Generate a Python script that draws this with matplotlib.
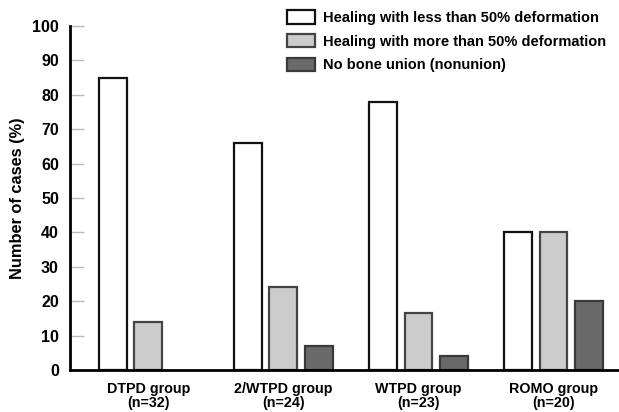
import numpy as np
from matplotlib import pyplot as plt
from matplotlib.patches import Patch

groups = ['DTPD group\n(n=32)', '2/WTPD group\n(n=24)', 'WTPD group\n(n=23)', 'ROMO group\n(n=20)']
less50 = [85, 66, 78, 40]
more50 = [14, 24, 16.5, 40]
nonunion = [0, 7, 4, 20]
labels = ['Healing with less than 50% deformation',
          'Healing with more than 50% deformation',
          'No bone union (nonunion)']

plt.rcParams['font.family'] = ['Liberation Sans', 'DejaVu Sans']
plt.rcParams['font.weight'] = 'bold'

fig = plt.figure(figsize=(6.19, 4.12), dpi=100)
ax = fig.add_axes([70/619, 42/412, 549/619, 344/412])

x = np.arange(len(groups))
w = 0.207
off = 0.26
ax.bar(x - off, less50, w, color='white', edgecolor='#111111', linewidth=1.6)
ax.bar(x, more50, w, color='#cccccc', edgecolor='#444444', linewidth=1.6)
nz = [i for i, v in enumerate(nonunion) if v > 0]
ax.bar(x[nz] + off, [nonunion[i] for i in nz], w, color='#6a6a6a', edgecolor='#3a3a3a', linewidth=1.6)

ax.set_xlim(-0.581, 3.485)
ax.set_ylim(0, 100)
ax.set_yticks(range(0, 101, 10))
ax.set_xticks(x)
ax.set_xticklabels(groups, fontsize=10.3, fontweight='bold', linespacing=1.0)
ax.tick_params(axis='y', direction='in', length=10, color='#bbbbbb', width=1,
               labelsize=11.5, pad=8)
ax.tick_params(axis='x', length=0, pad=9)
for s in ['top', 'right']:
    ax.spines[s].set_visible(False)
ax.spines['left'].set_linewidth(2)
ax.spines['bottom'].set_linewidth(2)
ax.set_ylabel('Number of cases (%)', fontsize=11.8, fontweight='bold', labelpad=5)

handles = [Patch(facecolor='white', edgecolor='#111111', linewidth=1.6),
           Patch(facecolor='#cccccc', edgecolor='#444444', linewidth=1.6),
           Patch(facecolor='#6a6a6a', edgecolor='#3a3a3a', linewidth=1.6)]
fig.legend(handles, labels, loc='upper left', bbox_to_anchor=(287/619, 1 - 10/412),
           frameon=False, fontsize=10.5, handlelength=1.95, handleheight=1.05,
           handletextpad=0.55, labelspacing=0.62, borderpad=0, borderaxespad=0)

fig.savefig('out.png', dpi=100)
